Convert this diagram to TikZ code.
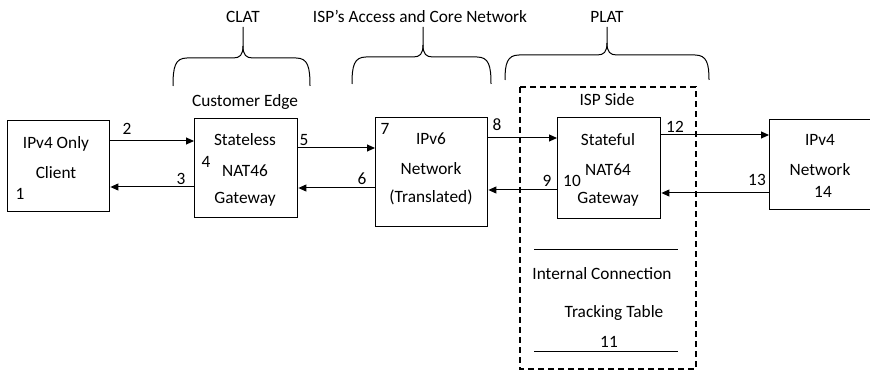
\documentclass[tikz,border=0pt]{standalone}
\usepackage{fontspec}
\setmainfont{Carlito}
\usetikzlibrary{arrows.meta}
% curly brace opening downwards: left end, tip, right end, bar level, end level
\newcommand\curlybrace[5]{%
  \draw[bracestyle] (#1,#5) .. controls (#1,#4+9) and (#1+2,#4) .. (#1+14,#4)
    -- (#2-10,#4) .. controls (#2-3,#4) and (#2,#4-3) .. (#2,#4-12) -- (#2,27);
  \draw[bracestyle] (#2,#4-12) .. controls (#2,#4-3) and (#2+3,#4) .. (#2+10,#4)
    -- (#3-14,#4) .. controls (#3-2,#4) and (#3,#4+9) .. (#3,#5);}
\begin{document}
\begin{tikzpicture}[x=1pt,y=-1pt,
  box/.style={draw, line width=1.4pt, inner sep=0pt, anchor=north west},
  lbl/.style={anchor=base, inner sep=0pt, font=\fontsize{17.3}{20}\selectfont},
  flow/.style={line width=1pt, -{Triangle[length=8pt,width=7pt]}},
  bracestyle/.style={line width=1pt, line join=round},
  sep/.style={line width=1pt},
  zone/.style={draw, line width=1.4pt, dash pattern=on 6pt off 4pt}]
\useasboundingbox (0,0) rectangle (870,371);

% dashed ISP-side region
\draw[zone] (520,87) rectangle (696,369);

% components
\node[box, minimum width=102pt, minimum height=91pt]  (b1) at (7,120)   {};
\node[box, minimum width=103pt, minimum height=99pt]  (b2) at (194,118) {};
\node[box, minimum width=112pt, minimum height=109pt] (b3) at (375,117) {};
\node[box, minimum width=103pt, minimum height=101pt] (b4) at (557,117) {};
\node[box, minimum width=131pt, minimum height=90pt]  (b5) at (769,119) {};

% box texts
\node[lbl] (t1a) at (56,149) {IPv4 Only};
\node[lbl] (t1b) at (56,179) {Client};
\node[lbl] (n1)  at (20,200) {1};

\node[lbl] (t2a) at (245,146) {Stateless};
\node[lbl] (t2b) at (245,177) {NAT46};
\node[lbl] (t2c) at (245,204) {Gateway};
\node[lbl] (n4)  at (206,168) {4};

\node[lbl] (t3a) at (431,145) {IPv6};
\node[lbl] (t3b) at (431,175) {Network};
\node[lbl] (t3c) at (431,203) {(Translated)};
\node[lbl] (n7)  at (385,135) {7};

\node[lbl] (t4a) at (608,146) {Stateful};
\node[lbl] (t4b) at (608,176) {NAT64};
\node[lbl] (t4c) at (608,204) {Gateway};
\node[lbl] (n10) at (572,187) {10};

\node[lbl] (t5a) at (820,146) {IPv4};
\node[lbl] (t5b) at (820,176) {Network};
\node[lbl] (n14) at (823,198) {14};

% flows between components
\draw[flow] (b1.east |- 0,141) -- (b2.west |- 0,141);
\draw[flow] (b2.west |- 0,187) -- (b1.east |- 0,187);
\draw[flow] (b2.east |- 0,148) -- (b3.west |- 0,148);
\draw[flow] (b3.west |- 0,188) -- (b2.east |- 0,188);
\draw[flow] (b3.east |- 0,138) -- (b4.west |- 0,138);
\draw[flow] (b4.west |- 0,190) -- (b3.east |- 0,190);
\draw[flow] (b4.east |- 0,135) -- (b5.west |- 0,135);
\draw[flow] (b5.west |- 0,193) -- (b4.east |- 0,193);

% flow numbers
\node[lbl] (n2)  at (127,135) {2};
\node[lbl] (n3)  at (181,185) {3};
\node[lbl] (n5)  at (304,146) {5};
\node[lbl] (n6)  at (362,185) {6};
\node[lbl] (n8)  at (497,131) {8};
\node[lbl] (n9)  at (547,187) {9};
\node[lbl] (n12) at (675,133) {12};
\node[lbl] (n13) at (757,186) {13};

% group headings
\node[lbl] (ce)  at (245,107) {Customer Edge};
\node[lbl] (isp) at (607,106) {ISP Side};

% connection tracking table
\coordinate (tl1) at (534,250);
\coordinate (tr1) at (678,250);
\coordinate (tl2) at (534,351);
\coordinate (tr2) at (678,351);
\draw[sep] (tl1) -- (tr1);
\draw[sep] (tl2) -- (tr2);
\node[lbl] (tt1) at (602,280) {Internal Connection};
\node[lbl] (tt2) at (614,318) {Tracking Table};
\node[lbl] (n11) at (609,347) {11};

% braces and their labels
\curlybrace{173}{243}{310}{58}{86}
\curlybrace{352}{423}{491}{57}{84}
\curlybrace{505}{607}{709}{55}{80}
\node[lbl] (clat) at (243,23) {CLAT};
\node[lbl] (core) at (420,23) {ISP’s Access and Core Network};
\node[lbl] (plat) at (607,23) {PLAT};
\end{tikzpicture}
\end{document}
